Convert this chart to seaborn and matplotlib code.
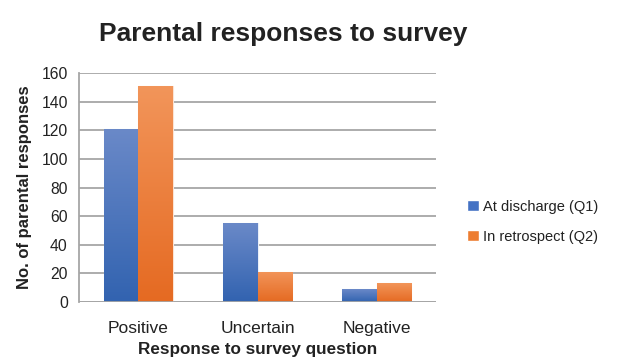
import numpy as np
import pandas as pd
import matplotlib
matplotlib.use("Agg")
import matplotlib.pyplot as plt
import seaborn as sns
from matplotlib.colors import LinearSegmentedColormap

# Datos
categorias = ["Positive", "Uncertain", "Negative"]
series = ["At discharge (Q1)", "In retrospect (Q2)"]
q1 = [121, 55, 9]
q2 = [151, 21, 13]
y_ticks = [0, 20, 40, 60, 80, 100, 120, 140, 160]

df = pd.DataFrame({
    "Respuesta": categorias * 2,
    "Serie": [series[0]] * 3 + [series[1]] * 3,
    "Valor": q1 + q2,
})

sns.set_style("white")
plt.rcParams["font.family"] = ["Liberation Sans", "DejaVu Sans"]

colores = {series[0]: "#4472C4", series[1]: "#ED7D31"}
degradados = {
    "#4472c4": LinearSegmentedColormap.from_list("azul", ["#3263B0", "#6A89C8"]),
    "#ed7d31": LinearSegmentedColormap.from_list("naranja", ["#E56A22", "#F2955A"]),
}

fig = plt.figure(figsize=(6.26, 3.62), dpi=100)
ax = fig.add_axes([0.126, 0.166, 0.571, 0.632])

sns.barplot(data=df, x="Respuesta", y="Valor", hue="Serie", palette=colores,
            saturation=1, width=0.58, gap=0, ax=ax, legend=True)

# Relleno con degradado vertical sobre cada barra
grad = np.linspace(0, 1, 100).reshape(-1, 1)
for barra in list(ax.patches):
    if barra.get_height() <= 0:
        continue
    hexcol = matplotlib.colors.to_hex(barra.get_facecolor()).lower()
    cmap = degradados.get(hexcol)
    if cmap is None:
        continue
    x0, y0 = barra.get_x(), barra.get_y()
    w, h = barra.get_width(), barra.get_height()
    barra.set_edgecolor("#E8EEF8" if hexcol == "#4472c4" else "#FBE3D3")
    barra.set_linewidth(0.8)
    im = ax.imshow(grad, extent=(x0, x0 + w, y0, y0 + h), origin="lower",
                   cmap=cmap, aspect="auto", zorder=barra.get_zorder() + 0.1)
    im.set_clip_path(barra)

ax.set_xlim(-0.5, 2.5)
ax.set_ylim(0, 160)
ax.set_yticks(y_ticks)
ax.yaxis.grid(True, color="#A6A6A6", linewidth=1.3)
ax.set_axisbelow(True)

for lado in ["top", "right", "bottom"]:
    ax.spines[lado].set_visible(False)
ax.spines["left"].set_color("#A6A6A6")
ax.spines["left"].set_linewidth(1.3)
ax.axhline(0, color="#A6A6A6", linewidth=1.3, zorder=5)

ax.tick_params(axis="y", length=5, width=1.3, color="#A6A6A6", labelsize=11.3,
               labelcolor="#222222", pad=3)
ax.tick_params(axis="x", which="major", length=0, labelsize=12.5,
               labelcolor="#222222", pad=14)
ax.set_xticks([-0.5, 0.5, 1.5, 2.5], minor=True)
ax.tick_params(axis="x", which="minor", length=5, width=1.3, color="#A6A6A6")

ax.set_xlabel("Response to survey question", fontsize=12.3, fontweight="bold",
              color="#222222", labelpad=4)
ax.set_ylabel("No. of parental responses", fontsize=12, fontweight="bold",
              color="#222222", labelpad=7)
fig.suptitle("Parental responses to survey", x=0.452, y=0.94, fontsize=19,
             fontweight="bold", color="#222222")

handles, labels = ax.get_legend_handles_labels()
ax.legend(handles, labels, loc="center left", bbox_to_anchor=(1.05, 0.35), frameon=False,
          fontsize=10.5, handlelength=0.8, handleheight=0.8, handletextpad=0.3,
          labelspacing=1.1, labelcolor="#222222")

plt.savefig("out.png", dpi=100)
